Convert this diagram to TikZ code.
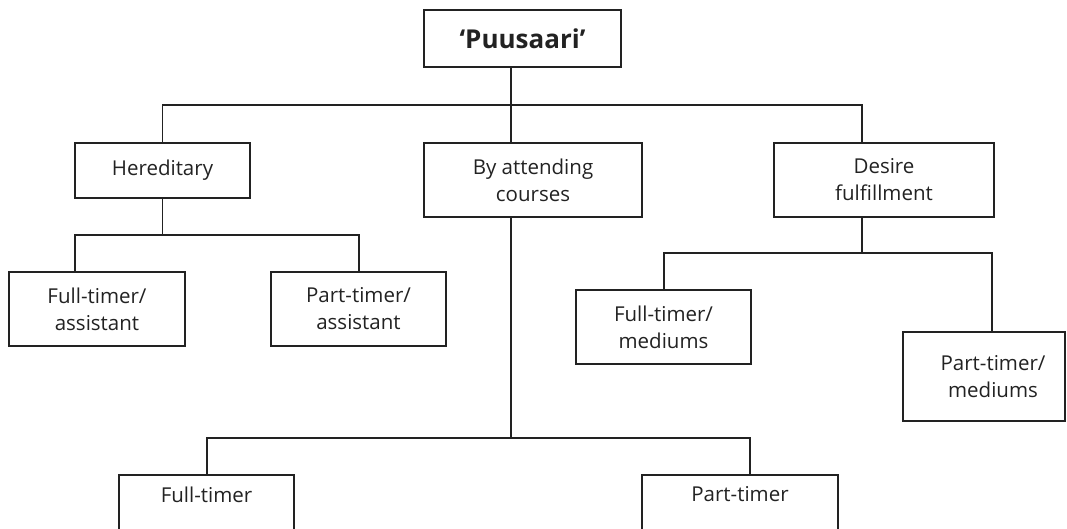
\documentclass[tikz,border=0pt]{standalone}
\usepackage{fontspec}
\setmainfont{Open Sans}
\definecolor{ink}{HTML}{222222}
\begin{document}
\begin{tikzpicture}[x=1pt,y=-1pt,
  box/.style={draw=ink, line width=1.5pt, rectangle, inner sep=0pt, align=center,
    text=ink, font=\fontsize{20.5}{27}\selectfont},
  conn/.style={draw=ink, line width=1.5pt}]
\useasboundingbox (0,0) rectangle (1067,528);
\clip (0,0) rectangle (1067,528);
% nodes
\node[box, minimum width=197, minimum height=57, font=\fontsize{26}{30}\selectfont\bfseries] (root) at (522.5,38.5) {‘Puusaari’};
\node[box, minimum width=175, minimum height=55] (her) at (162.5,170.5) {Hereditary};
\node[box, minimum width=218, minimum height=74] (mid) at (533,180) {By attending\\courses};
\node[box, minimum width=220, minimum height=74] (des) at (884,180) {Desire\\fulfillment};
\node[box, minimum width=176, minimum height=74] (fta) at (97,309) {Full-timer/\\assistant};
\node[box, minimum width=175, minimum height=74] (pta) at (358.5,309) {Part-timer/\\assistant};
\node[box, minimum width=175, minimum height=74] (ftm) at (663.5,327) {Full-timer/\\mediums};
\node[box, minimum width=162, minimum height=89] (ptm) at (984,376.5) {\hspace*{18pt}Part-timer/\\\hspace*{18pt}mediums};
\node[box, minimum width=175, minimum height=74] (ft) at (206.5,512) {Full-timer\\\strut};
\node[box, minimum width=196, minimum height=74] (pt) at (740,512) {Part-timer\\\strut};
% junctions
\coordinate (b1) at (511,105);
\coordinate (d1) at (862,105);
\coordinate (b2l) at (75,235);
\coordinate (b2r) at (359,235);
\coordinate (d2l) at (664,253);
\coordinate (d2r) at (992,253);
\coordinate (m3l) at (207,438);
\coordinate (m3r) at (750,438);
% connectors
\draw[conn] (root.south -| b1) -- (mid.north -| b1);
\draw[conn] (her.north) |- (b1) -- (d1) -- (des.north -| d1);
\draw[conn] (her.south) -- (her.south |- b2l);
\draw[conn] (fta.north -| b2l) |- (b2r) -- (pta.north -| b2r);
\draw[conn] (des.south -| d1) -- (d1 |- d2l);
\draw[conn] (ftm.north -| d2l) |- (d2r) -- (ptm.north -| d2r);
\draw[conn] (mid.south -| b1) -- (b1 |- m3l);
\draw[conn] (ft.north -| m3l) |- (m3r) -- (pt.north -| m3r);
\end{tikzpicture}
\end{document}
